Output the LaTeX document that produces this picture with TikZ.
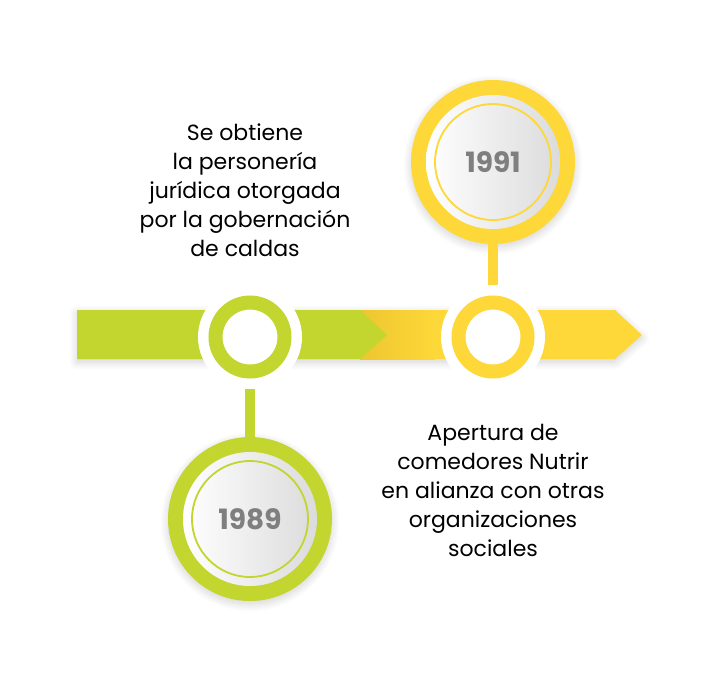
\documentclass[tikz,border=0pt]{standalone}
\usepackage{fontspec}
\setmainfont{Poppins}
\usetikzlibrary{shadows.blur}
\definecolor{lima}{HTML}{C3D52F}
\definecolor{oro}{HTML}{FDD838}
\definecolor{oroosc}{HTML}{EDC630}
\definecolor{gris}{HTML}{7F7F7F}

\begin{document}
\begin{tikzpicture}[x=1pt, y=-1pt,
  soft/.style={blur shadow={shadow xshift=0pt, shadow yshift=-3pt, shadow blur radius=8pt,
    shadow blur steps=14, shadow opacity=18}},
  hub/.style={circle, fill=white, minimum size=104pt, inner sep=0pt},
  ring/.style={circle, draw=#1, line width=14pt, fill=white, minimum size=69pt, inner sep=0pt},
  year/.style={circle, fill=#1, minimum size=164pt, inner sep=0pt, soft},
  disk/.style={circle, left color=white, right color=black!14, minimum size=134pt, inner sep=0pt},
  mark/.style={circle, draw=#1, line width=1.8pt, minimum size=116pt, inner sep=0pt,
    text=gris, font=\bfseries\fontsize{28}{28}\selectfont},
  stem/.style={draw=#1, line width=10pt},
  txt/.style={align=center, font=\fontsize{22}{29}\selectfont}]
  \useasboundingbox (0,0) rectangle (720,681);
  % timeline bar
  \fill[oro, soft] (77,310) -- (615,310) -- (642,335) -- (615,359) -- (77,359) -- cycle;
  \shade[left color=oroosc, right color=oro] (360,310) rectangle (435,359);
  \fill[lima] (77,310) -- (360,310) -- (387,335) -- (360,359) -- (77,359) -- cycle;
  % hubs on the bar
  \node[hub] (hubA) at (250,337) {};
  \node[ring=lima] at (hubA) {};
  \node[hub] (hubB) at (493,337) {};
  \node[ring=oro] at (hubB) {};
  % year badges
  \node[year=lima] (yrA) at (250,519) {};
  \node[disk] at (yrA) {};
  \node[mark=lima] at (yrA) {1989};
  \node[year=oro] (yrB) at (493,162) {};
  \node[disk] at (yrB) {};
  \node[mark=oro] at (yrB) {1991};
  \draw[stem=lima] (hubA) -- (yrA);
  \draw[stem=oro] (hubB) -- (yrB);
  % texts
  \node[txt] (txtA) at (245,190) {Se obtiene\\la personería\\jurídica otorgada\\por la gobernación\\de caldas};
  \node[txt] (txtB) at (493,490) {Apertura de\\comedores Nutrir\\en alianza con otras\\organizaciones\\sociales};
\end{tikzpicture}
\end{document}
